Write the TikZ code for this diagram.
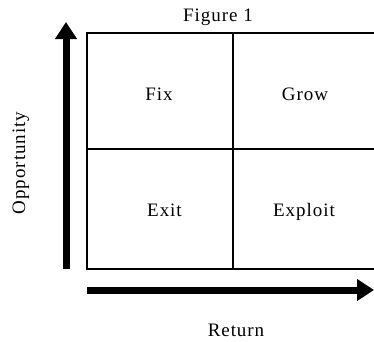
\documentclass[tikz,border=0pt]{standalone}
\usepackage{fontspec}
\setmainfont{Liberation Serif}[LetterSpace=5]
\usetikzlibrary{arrows.meta}
\tikzset{
  lbl/.style={font=\fontsize{19}{21}\selectfont, inner sep=0pt, anchor=base},
  gridline/.style={line width=2pt, line cap=rect},
  axis/.style={line width=7pt, -{Triangle[width=21pt,length=17pt]}}
}
\begin{document}
\begin{tikzpicture}[x=1pt,y=-1pt]
\useasboundingbox (0,0) rectangle (374,341);
% grid
\coordinate (tl) at (87,33);
\coordinate (br) at (379,269);
\coordinate (mt) at (233,33);
\coordinate (mb) at (233,269);
\coordinate (ml) at (87,149);
\coordinate (mr) at (379,149);
\draw[gridline] (tl) rectangle (br);
\draw[gridline] (mt) -- (mb);
\draw[gridline] (ml) -- (mr);
% axes
\coordinate (vs) at (66,269);
\coordinate (vt) at (66,22);
\coordinate (hs) at (87,290);
\coordinate (ht) at (374,290);
\draw[axis] (vs) -- (vt);
\draw[axis] (hs) -- (ht);
% labels
\node[lbl] (title) at (218,21) {Figure 1};
\node[lbl] (fix) at (159,100) {Fix};
\node[lbl] (grow) at (305,100) {Grow};
\node[lbl] (exit) at (164.5,216) {Exit};
\node[lbl] (exploit) at (304,216) {Exploit};
\node[lbl] (ret) at (236,336) {Return};
\node[lbl, rotate=90] (opp) at (25,163) {Opportunity};
\end{tikzpicture}
\end{document}
